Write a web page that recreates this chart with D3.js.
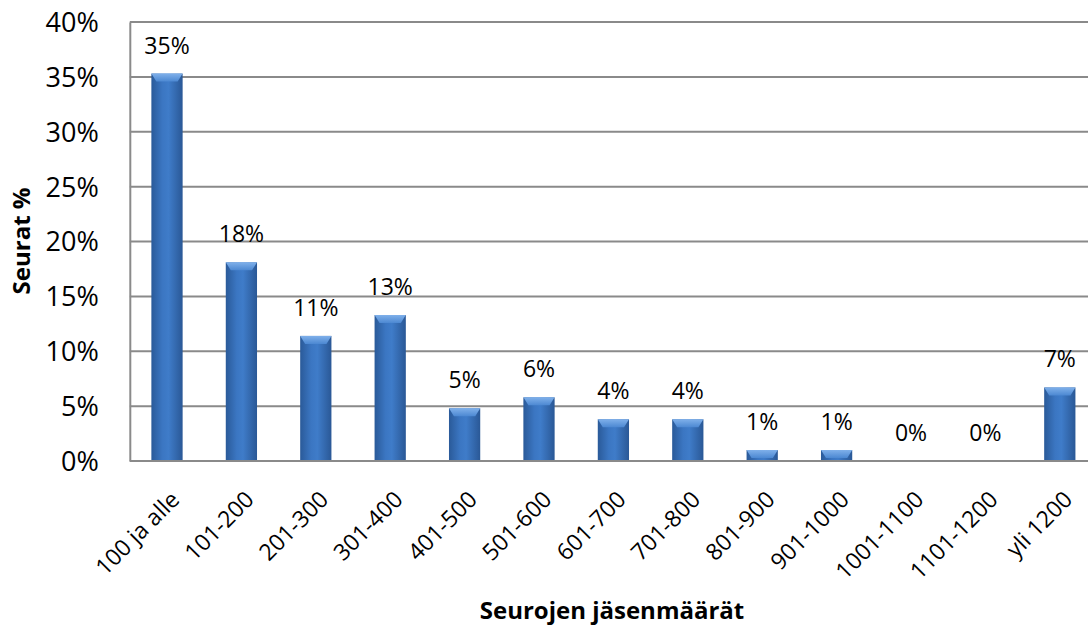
<!DOCTYPE html>
<html><head><meta charset="utf-8">
<script src="https://cdn.jsdelivr.net/npm/d3@7"></script>
<style>body{margin:0;background:#fff;}svg{display:block;font-family:"Open Sans",sans-serif;}</style>
</head><body>
<svg id="c" width="1088" height="629"></svg>
<script>
const categories = ["100 ja alle","101-200","201-300","301-400","401-500","501-600","601-700","701-800","801-900","901-1000","1001-1100","1101-1200","yli 1200"];
const values = [35.3, 18.1, 11.4, 13.3, 4.8, 5.8, 3.8, 3.8, 1.0, 1.0, 0, 0, 6.7];
const labels = ["35%","18%","11%","13%","5%","6%","4%","4%","1%","1%","0%","0%","7%"];
const yTicks = [0,5,10,15,20,25,30,35,40];

const FONT = '"Open Sans",sans-serif';
const svg = d3.select("#c");
const L = 129.8, T = 22, B = 461, R = 1097;
const x = d3.scaleBand().domain(categories).range([L, R]).paddingInner(0.58).paddingOuter(0.29);
const y = d3.scaleLinear().domain([0, 40]).range([B, T]);

const defs = svg.append("defs");
const g = defs.append("linearGradient").attr("id","bar").attr("x1","0").attr("x2","1").attr("y1","0").attr("y2","0");
g.append("stop").attr("offset","0").attr("stop-color","#2a5a99");
g.append("stop").attr("offset","0.35").attr("stop-color","#3b76c2");
g.append("stop").attr("offset","0.55").attr("stop-color","#3f7cc9");
g.append("stop").attr("offset","1").attr("stop-color","#2a5896");
const gb = defs.append("linearGradient").attr("id","bev").attr("x1","0").attr("x2","0").attr("y1","0").attr("y2","1");
gb.append("stop").attr("offset","0").attr("stop-color","#7fb0ea");
gb.append("stop").attr("offset","1").attr("stop-color","#4c88d2");

// gridlines
svg.append("g").selectAll("line").data(yTicks.slice(1)).join("line")
  .attr("x1", L).attr("x2", 1088).attr("y1", d => y(d)).attr("y2", d => y(d))
  .attr("stroke", "#8a8a8a").attr("stroke-width", 2);

// y axis
const ya = svg.append("g").attr("transform", `translate(${L},0)`)
  .call(d3.axisLeft(y).tickValues(yTicks).tickFormat(d => d + "%").tickSize(0).tickPadding(31));
ya.select(".domain").attr("stroke", "#8a8a8a").attr("stroke-width", 2);
ya.selectAll("text").attr("font-size", 27).attr("fill", "#000").attr("font-family", FONT).attr("dy","0.35em");

// bars
const bars = svg.append("g").selectAll("g").data(categories.map((c,i)=>({c, v: values[i], l: labels[i]}))).join("g");
bars.filter(d => d.v > 0).append("rect")
  .attr("x", d => x(d.c)).attr("width", x.bandwidth())
  .attr("y", d => y(d.v)).attr("height", d => B - y(d.v))
  .attr("fill", "url(#bar)");
bars.filter(d => d.v > 0).append("path")
  .attr("d", d => {
    const x0 = x(d.c), w = x.bandwidth(), t = y(d.v), h = Math.min(8, (B - y(d.v)));
    return `M${x0},${t}L${x0+w},${t}L${x0+w-5},${t+h}L${x0+5},${t+h}Z`;
  })
  .attr("fill", "url(#bev)");

// data labels
bars.append("text")
  .attr("x", d => x(d.c) + x.bandwidth()/2)
  .attr("y", d => y(d.v) - 20)
  .attr("text-anchor", "middle")
  .attr("font-size", 23).attr("fill", "#000").attr("font-family", FONT)
  .text(d => d.l);

// bottom axis line
svg.append("line").attr("x1", L).attr("x2", 1088).attr("y1", B).attr("y2", B)
  .attr("stroke", "#8a8a8a").attr("stroke-width", 2);

// x labels
const xa = svg.append("g").attr("transform", `translate(0,${B})`)
  .call(d3.axisBottom(x).tickSize(0).tickPadding(0));
xa.select(".domain").remove();
xa.selectAll("text")
  .attr("font-size", 23).attr("fill", "#000").attr("font-family", FONT)
  .attr("text-anchor", "end")
  .attr("dy", null).attr("y", null)
  .attr("transform", "translate(14,40) rotate(-45)");

// titles
svg.append("text").attr("x", 612).attr("y", 619).attr("text-anchor", "middle")
  .attr("font-size", 24).attr("font-weight", "bold").attr("font-family", FONT).text("Seurojen jäsenmäärät");
svg.append("text").attr("transform", "translate(30,241) rotate(-90)").attr("text-anchor", "middle")
  .attr("font-size", 24).attr("font-weight", "bold").attr("font-family", FONT).text("Seurat %");
</script>
</body></html>
